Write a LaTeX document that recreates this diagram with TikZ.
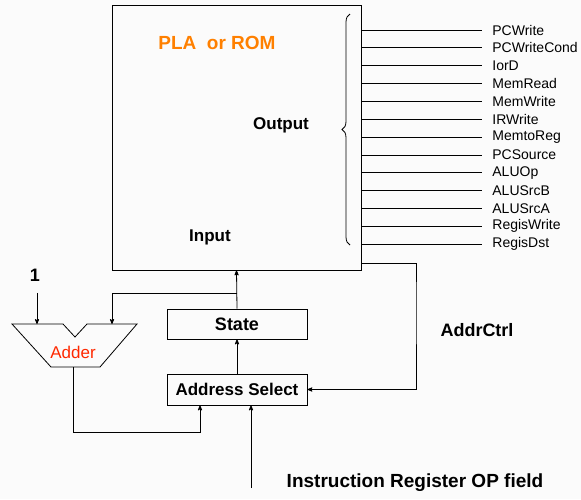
\documentclass[tikz,border=0pt]{standalone}
\usepackage{fontspec}
\setmainfont{Liberation Sans}
\usetikzlibrary{positioning,arrows,decorations.pathreplacing}
\definecolor{plaorange}{RGB}{255,128,0}
\definecolor{addred}{RGB}{255,40,0}

\begin{document}
\begin{tikzpicture}[
  x=1pt,y=-1pt,line width=0.8pt,>=stealth',
  box/.style={draw,inner sep=0pt,minimum width=140pt},
  lbl/.style={font=\fontsize{17}{19}\selectfont\bfseries},
  sig/.style={anchor=west,inner sep=0pt,font=\fontsize{14}{16}\selectfont}
  ]
  \useasboundingbox[fill=gray!3] (0,0) rectangle (581,499);
  % PLA or ROM
  \node[draw,inner sep=0pt,minimum width=249pt,minimum height=265pt] (rom) at (236.5,137.5) {};
  \node[font=\fontsize{19}{21}\selectfont\bfseries,text=plaorange] (pla) at (217,43) {PLA\ \ or ROM};
  \node[lbl] (out) at (281,125) {Output};
  \node[lbl] (in) at (210,237) {Input};
  % Output signals
  \draw[decorate,decoration={brace,amplitude=8pt}] (350,245) -- (350,14);
  \foreach \s [count=\i from 0] in {PCWrite,PCWriteCond,IorD,MemRead,MemWrite,IRWrite,
      MemtoReg,PCSource,ALUOp,ALUSrcB,ALUSrcA,RegisWrite,RegisDst} {
    \node[sig] (s\i) at (492,{30+17.85*\i}) {\s};
    \draw (s\i.west -| rom.east) -- ([xshift=-10pt]s\i.west);
  }
  % State and address select
  \node[box,minimum height=30pt,lbl,font=\fontsize{18}{20}\selectfont\bfseries] (state) at (237,324) {State};
  \node[box,minimum height=31pt,lbl] (addr) at (237,389.5) {Address Select};
  \node[lbl,font=\fontsize{18}{20}\selectfont\bfseries] (ctrl) at (477,330) {AddrCtrl};
  \node[lbl,font=\fontsize{19}{21}\selectfont\bfseries] (ir) at (415,483) {Instruction Register OP field};
  % Adder
  \draw (12,324) -- (63,324) -- (75,337) -- (87,324) -- (137,324) -- (100,367) -- (51,367) -- cycle;
  \coordinate (a1) at (37,324);
  \coordinate (a2) at (112,324);
  \coordinate (aout) at (73,367);
  \node[font=\fontsize{17}{19}\selectfont,text=addred] (adder) at (73,352) {Adder};
  \node[lbl,font=\fontsize{18}{20}\selectfont\bfseries] (one) at (35,275) {1};
  % Connections
  \coordinate (br) at (237,293);
  \draw[->] (state.north) -- (rom.south);
  \draw[->] (br) -| (a2);
  \draw[->] (addr.north) -- (state.south);
  \draw[->] (one.south) ++(2,8) -- (a1);
  \draw[->] (aout) |- (200,432) -- (addr.south -| 200,0);
  \draw[->] (ir.west -| 251,0) ++(0,5) -- (addr.south -| 251,0);
  \draw[->] (rom.east |- 0,263) -| (416,300) |- (addr.east);
\end{tikzpicture}
\end{document}
